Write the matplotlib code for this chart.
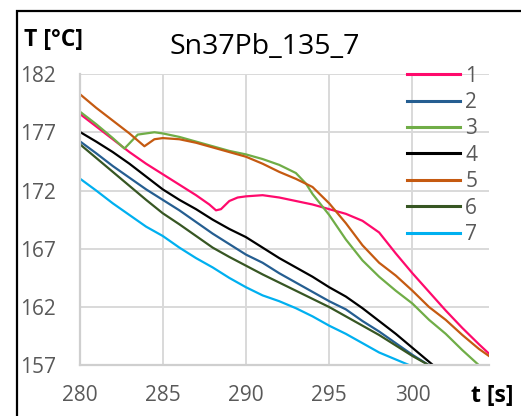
import matplotlib
matplotlib.use("Agg")
import matplotlib.pyplot as plt
from matplotlib.patches import Rectangle

plt.rcParams['font.family'] = ['Open Sans', 'DejaVu Sans']

title = "Sn37Pb_135_7"
series_names = ["1", "2", "3", "4", "5", "6", "7"]
colors = ["#FF0A6C", "#255E91", "#70AD47", "#000000", "#C55A11", "#375623", "#00B0F0"]

t1 = [280, 281, 282, 283, 284, 285, 286, 287, 287.8, 288.2, 288.5, 289, 289.5, 290, 291, 292, 293,
      294, 295, 296, 297, 298, 299, 300, 301, 302, 303, 304, 304.6]
T1 = [178.6, 177.5, 176.4, 175.3, 174.3, 173.4, 172.5, 171.6, 170.8, 170.3, 170.4, 171.1, 171.4, 171.5,
      171.6, 171.4, 171.1, 170.8, 170.4, 170.0, 169.4, 168.4, 166.6, 164.9, 163.3, 161.7, 160.2, 158.8, 158.0]

t2 = [280, 281, 282, 283, 284, 285, 286, 287, 288, 289, 290, 291, 292, 293, 294, 295, 296, 297, 298,
      299, 300, 301, 302]
T2 = [176.25, 175.2, 174.1, 173.1, 172.1, 171.2, 170.3, 169.3, 168.3, 167.4, 166.5, 165.8, 164.9, 164.1,
      163.3, 162.5, 161.8, 160.8, 159.9, 158.9, 157.9, 157.0, 156.0]

t3 = [280, 281, 282, 282.7, 283.1, 283.5, 284, 284.5, 285, 286, 287, 288, 289, 290, 291, 292, 293,
      293.6, 294, 295, 296, 297, 298, 299, 300, 301, 302, 303, 304, 304.6]
T3 = [178.8, 177.7, 176.5, 175.6, 176.2, 176.8, 176.9, 177.0, 176.9, 176.6, 176.2, 175.8, 175.4, 175.1,
      174.7, 174.2, 173.5, 172.6, 171.7, 169.9, 167.8, 166.0, 164.6, 163.4, 162.3, 160.9, 159.7, 158.3,
      157.0, 156.2]

t4 = [280, 281, 282, 283, 284, 285, 286, 287, 288, 289, 290, 291, 292, 293, 294, 295, 296, 297, 298,
      299, 300, 301, 302]
T4 = [177.05, 176.2, 175.3, 174.3, 173.2, 172.1, 171.2, 170.4, 169.5, 168.7, 168.0, 167.1, 166.2, 165.4,
      164.6, 163.7, 162.9, 161.9, 160.8, 159.7, 158.5, 157.3, 156.1]

t5 = [280, 281, 282, 283, 283.9, 284.5, 285, 286, 287, 288, 289, 290, 291, 292, 293, 294, 294.5, 295,
      296, 297, 298, 299, 300, 301, 302, 303, 304, 304.6]
T5 = [180.3, 179.1, 178.0, 176.9, 175.8, 176.4, 176.5, 176.4, 176.1, 175.7, 175.3, 174.9, 174.3, 173.6,
      173.0, 172.3, 171.6, 170.9, 169.2, 167.3, 165.8, 164.7, 163.4, 162.0, 160.9, 159.6, 158.4, 157.8]

t6 = [280, 281, 282, 283, 284, 285, 286, 287, 288, 289, 290, 291, 292, 293, 294, 295, 296, 297, 298,
      299, 300, 301, 302]
T6 = [176.0, 174.8, 173.6, 172.4, 171.2, 170.05, 169.1, 168.1, 167.1, 166.3, 165.55, 164.8, 164.1, 163.4,
      162.7, 162.0, 161.2, 160.4, 159.6, 158.7, 157.8, 157.0, 156.1]

t7 = [280, 281, 282, 283, 284, 285, 286, 287, 288, 289, 290, 291, 292, 293, 294, 295, 296, 297, 298,
      299, 300, 301]
T7 = [173.05, 172.0, 170.9, 169.9, 168.9, 168.1, 167.1, 166.2, 165.4, 164.5, 163.7, 163.0, 162.5, 161.9,
      161.2, 160.4, 159.7, 158.9, 158.1, 157.5, 156.9, 156.2]

x_ticks = [280, 285, 290, 295, 300]
y_ticks = [157, 162, 167, 172, 177, 182]

W, H = 521, 416
fig = plt.figure(figsize=(W / 100, H / 100), dpi=100)
fig.patch.set_facecolor("white")

# outer frame
fig.patches.append(Rectangle((16.5 / W, -0.1), 1.2, (H - 10.5) / H + 0.1, transform=fig.transFigure,
                             fill=False, edgecolor="black", linewidth=1.6, clip_on=False))

ax = fig.add_axes([79.5 / W, 1 - 365.3 / H, (489 - 79.5) / W, (365.3 - 74) / H])

data = [(t1, T1), (t2, T2), (t3, T3), (t4, T4), (t5, T5), (t6, T6), (t7, T7)]
for (tx, ty), name, c in zip(data, series_names, colors):
    ax.plot(tx, ty, color=c, lw=1.6, label=name, solid_joinstyle="round")

ax.set_xlim(280, 304.6)
ax.set_ylim(157, 182)
ax.set_xticks(x_ticks)
ax.set_yticks(y_ticks)
ax.grid(True, color="#D9D9D9", lw=1.4)
ax.set_axisbelow(True)
for s in ["top", "right"]:
    ax.spines[s].set_visible(False)
for s in ["left", "bottom"]:
    ax.spines[s].set_color("#CFCFCF")
    ax.spines[s].set_linewidth(1.6)
ax.tick_params(length=0, labelsize=15, labelcolor="#595959")
ax.tick_params(axis="x", pad=14)
ax.tick_params(axis="y", pad=17)

fig.text(265 / W, 1 - 47 / H, title, ha="center", va="center", fontsize=20.5, color="black")
fig.text(24 / W, 1 - 40 / H, "T [°C]", ha="left", va="center", fontsize=16.5, fontweight="bold")
fig.text(471 / W, 1 - 396 / H, "t [s]", ha="left", va="center", fontsize=16.5, fontweight="bold")

leg = ax.legend(loc="upper left", bbox_to_anchor=(407 / W, 1 - 65.5 / H), bbox_transform=fig.transFigure,
                frameon=False, fontsize=15, handlelength=2.55, handletextpad=0.25, labelspacing=0.26,
                borderpad=0, borderaxespad=0)
for txt in leg.get_texts():
    txt.set_color("#595959")
for ln in leg.get_lines():
    ln.set_linewidth(2.2)

fig.savefig("out.png", dpi=100, facecolor="white")
